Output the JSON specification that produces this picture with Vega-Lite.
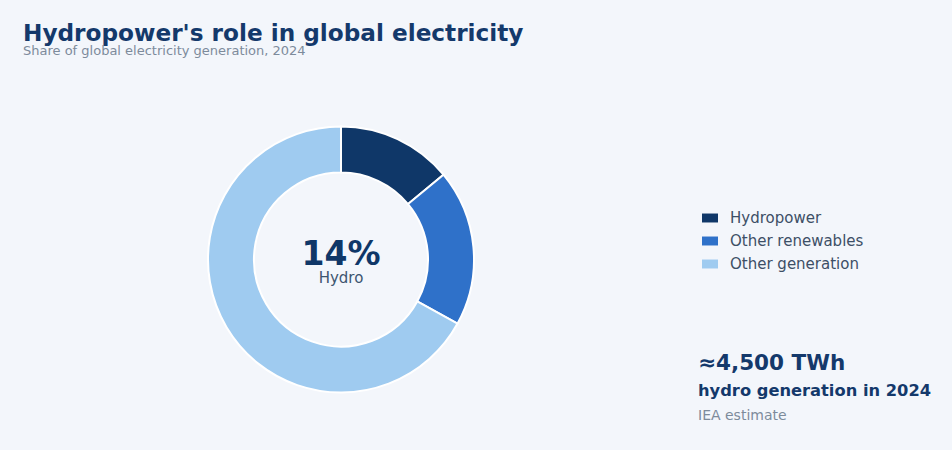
{
  "$schema": "https://vega.github.io/schema/vega-lite/v6.json",
  "background": "#f3f6fb",
  "padding": {"left": 23, "top": 21, "right": 20, "bottom": 5},
  "width": 636,
  "height": 377,
  "title": {
    "text": "Hydropower's role in global electricity",
    "subtitle": "Share of global electricity generation, 2024",
    "anchor": "start",
    "frame": "group",
    "fontSize": 23.2,
    "fontWeight": "bold",
    "color": "#14396b",
    "subtitleFontSize": 13,
    "subtitleColor": "#7d8b9b",
    "subtitlePadding": -1,
    "offset": 12
  },
  "config": {
    "view": {"stroke": null},
    "font": "DejaVu Sans"
  },
  "data": {
    "values": [
      {"source": "Hydropower", "share": 14},
      {"source": "Other renewables", "share": 19},
      {"source": "Other generation", "share": 67}
    ]
  },
  "layer": [
    {
      "mark": {
        "type": "arc",
        "innerRadius": 87,
        "outerRadius": 133,
        "stroke": "#ffffff",
        "strokeWidth": 2
      },
      "encoding": {
        "theta": {"field": "share", "type": "quantitative", "stack": true},
        "order": {"field": "share", "type": "quantitative", "sort": "ascending"},
        "color": {
          "field": "source",
          "type": "nominal",
          "scale": {
            "domain": ["Hydropower", "Other renewables", "Other generation"],
            "range": ["#0f3768", "#2f71c9", "#9fcbf0"]
          },
          "legend": {
            "title": null,
            "orient": "none",
            "legendX": 679,
            "legendY": 139,
            "symbolType": "M-1,-0.56L1,-0.56L1,0.56L-1,0.56Z",
            "symbolSize": 256,
            "symbolStrokeWidth": 0,
            "labelFontSize": 15,
            "labelColor": "#3d4f66",
            "labelOffset": 12,
            "rowPadding": 7,
            "padding": 0
          }
        },
        "tooltip": [
          {"field": "source", "type": "nominal", "title": "Source"},
          {"field": "share", "type": "quantitative", "title": "Share (%)"}
        ]
      }
    },
    {
      "data": {"values": [{"big": "14%", "small": "Hydro"}]},
      "mark": {
        "type": "text",
        "fontSize": 33,
        "fontWeight": "bold",
        "color": "#0f3768",
        "baseline": "alphabetic",
        "dy": 5
      },
      "encoding": {"text": {"field": "big"}}
    },
    {
      "data": {"values": [{"big": "14%", "small": "Hydro"}]},
      "mark": {
        "type": "text",
        "fontSize": 15,
        "color": "#3d5570",
        "baseline": "alphabetic",
        "dy": 23
      },
      "encoding": {"text": {"field": "small"}}
    },
    {
      "data": {"values": [{"line": "≈4,500 TWh"}]},
      "mark": {
        "type": "text",
        "align": "left",
        "baseline": "alphabetic",
        "fontSize": 21.5,
        "fontWeight": "bold",
        "color": "#14396b"
      },
      "encoding": {
        "text": {"field": "line"},
        "x": {"value": 675},
        "y": {"value": 299}
      }
    },
    {
      "data": {"values": [{"line": "hydro generation in 2024"}]},
      "mark": {
        "type": "text",
        "align": "left",
        "baseline": "alphabetic",
        "fontSize": 16.3,
        "fontWeight": "bold",
        "color": "#14396b"
      },
      "encoding": {
        "text": {"field": "line"},
        "x": {"value": 675},
        "y": {"value": 325}
      }
    },
    {
      "data": {"values": [{"line": "IEA estimate"}]},
      "mark": {
        "type": "text",
        "align": "left",
        "baseline": "alphabetic",
        "fontSize": 14,
        "color": "#7d8b9b"
      },
      "encoding": {
        "text": {"field": "line"},
        "x": {"value": 675},
        "y": {"value": 349}
      }
    }
  ]
}
